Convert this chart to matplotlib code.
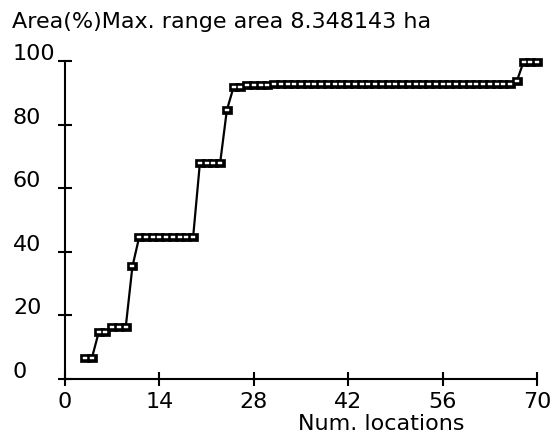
import matplotlib
matplotlib.use("Agg")
import matplotlib.pyplot as plt

# Data
num_locations = [3, 4, 5, 6, 7, 8, 9, 10,
                 11, 12, 13, 14, 15, 16, 17, 18, 19,
                 20, 21, 22, 23, 24, 25, 26, 27, 28, 29, 30,
                 31, 32, 33, 34, 35, 36, 37, 38, 39, 40,
                 41, 42, 43, 44, 45, 46, 47, 48, 49, 50,
                 51, 52, 53, 54, 55, 56, 57, 58, 59, 60,
                 61, 62, 63, 64, 65, 66, 67, 68, 69, 70]
area_pct = [6.7, 6.7, 14.7, 14.7, 16.2, 16.2, 16.2, 35.4,
            44.6, 44.6, 44.6, 44.6, 44.6, 44.6, 44.6, 44.6, 44.6,
            67.8, 67.8, 67.8, 67.8, 84.5, 91.8, 91.8, 92.4, 92.4, 92.4, 92.4,
            92.9, 92.9, 92.9, 92.9, 92.9, 92.9, 92.9, 92.9, 92.9, 92.9,
            92.9, 92.9, 92.9, 92.9, 92.9, 92.9, 92.9, 92.9, 92.9, 92.9,
            92.9, 92.9, 92.9, 92.9, 92.9, 92.9, 92.9, 92.9, 92.9, 92.9,
            92.9, 92.9, 92.9, 92.9, 92.9, 92.9, 93.6, 99.7, 99.7, 99.7]
x_ticks = [0, 14, 28, 42, 56, 70]
y_ticks = [0, 20, 40, 60, 80, 100]
title_text = "Area(%)Max. range area 8.348143 ha"
x_label = "Num. locations"

W, H = 555, 436
fig = plt.figure(figsize=(W / 100, H / 100), dpi=100)
plt.rcParams['font.family'] = ['DejaVu Sans']
FS = 16

# rectangular marker shapes (wider than tall)
outer = [(-1.0, -0.85), (1.0, -0.85), (1.0, 0.85), (-1.0, 0.85), (-1.0, -0.85)]
inner = [(-1.0, -0.55), (1.0, -0.55), (1.0, 0.55), (-1.0, 0.55), (-1.0, -0.55)]

ax = fig.add_axes([65 / W, (H - 379) / H, (537 - 65) / W, (379 - 61) / H])
ax.plot(num_locations, area_pct, color='black', lw=1.6, marker=outer, ms=7.5,
        mfc='black', mec='black', mew=0.5, clip_on=False, zorder=3)
ax.plot(num_locations, area_pct, ls='none', marker=inner, ms=3.2,
        mfc='white', mec='white', mew=0.3, clip_on=False, zorder=4)
ax.set_xlim(0, 70)
ax.set_ylim(0, 100)
for s in ['top', 'right']:
    ax.spines[s].set_visible(False)
for s in ['left', 'bottom']:
    ax.spines[s].set_linewidth(1.5)
ax.set_xticks(x_ticks)
ax.set_yticks(y_ticks)
ax.tick_params(axis='both', direction='inout', length=10, width=1.5,
               labelsize=FS, colors='black')
ax.tick_params(axis='x', pad=4.0)
ax.set_yticklabels([])
ax.set_xticklabels([str(t) for t in x_ticks])

# y tick labels: left aligned near left edge, baseline at tick
for t in y_ticks:
    yfig = (H - 379 + t * 3.18 + 1) / H
    fig.text(13 / W, yfig, str(t), ha='left', va='baseline', fontsize=FS)

fig.text(12 / W, (H - 28) / H, title_text, ha='left', va='baseline', fontsize=FS)
fig.text(465 / W, (H - 430) / H, x_label, ha='right', va='baseline', fontsize=FS)

fig.savefig("out.png", dpi=100)
